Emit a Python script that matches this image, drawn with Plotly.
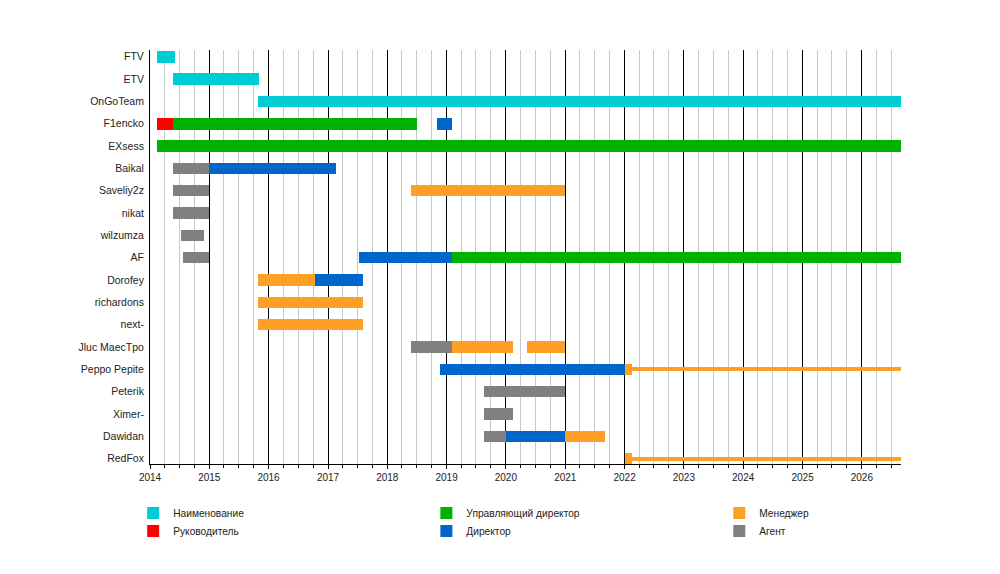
import pandas as pd
import plotly.graph_objects as go

# rows top to bottom
names = ["FTV", "ETV", "OnGoTeam", "F1encko", "EXsess", "Baikal", "Saveliy2z", "nikat",
         "wilzumza", "AF", "Dorofey", "richardons", "next-", "Jluc MaecTpo", "Peppo Pepite",
         "Peterik", "Ximer-", "Dawidan", "RedFox"]

END = "2026-08-30"

# one entry per bar segment
seg_row = ["FTV", "ETV", "OnGoTeam",
           "F1encko", "F1encko", "F1encko",
           "EXsess",
           "Baikal", "Baikal",
           "Saveliy2z", "Saveliy2z",
           "nikat", "wilzumza",
           "AF", "AF", "AF",
           "Dorofey", "Dorofey",
           "richardons", "next-",
           "Jluc MaecTpo", "Jluc MaecTpo", "Jluc MaecTpo",
           "Peppo Pepite", "Peppo Pepite", "Peppo Pepite",
           "Peterik", "Ximer-",
           "Dawidan", "Dawidan", "Dawidan",
           "RedFox", "RedFox"]
seg_start = ["2014-02-10", "2014-05-25", "2015-10-28",
             "2014-02-10", "2014-05-22", "2018-11-06",
             "2014-02-10",
             "2014-05-25", "2015-01-01",
             "2014-05-25", "2018-05-27",
             "2014-05-25", "2014-07-08",
             "2014-07-26", "2017-07-08", "2019-02-06",
             "2015-10-28", "2016-10-12",
             "2015-10-28", "2015-10-28",
             "2018-05-27", "2019-02-06", "2020-05-08",
             "2018-11-24", "2022-01-01", "2022-02-17",
             "2019-08-18", "2019-08-18",
             "2019-08-18", "2020-01-01", "2021-01-01",
             "2022-01-01", "2022-02-17"]
seg_end = ["2014-06-01", "2015-11-01", END,
           "2014-05-22", "2018-07-01", "2019-02-03",
           END,
           "2015-01-01", "2017-02-17",
           "2015-01-01", "2021-01-01",
           "2015-01-01", "2014-12-01",
           "2015-01-01", "2019-02-06", END,
           "2016-10-12", "2017-08-03",
           "2017-08-03", "2017-08-03",
           "2019-02-06", "2020-02-17", "2021-01-01",
           "2022-01-01", "2022-02-17", END,
           "2021-01-01", "2020-02-17",
           "2020-01-01", "2021-01-01", "2021-09-01",
           "2022-02-17", END]
seg_role = ["name", "name", "name",
            "head", "md", "dir",
            "md",
            "agent", "dir",
            "agent", "mgr",
            "agent", "agent",
            "agent", "dir", "md",
            "mgr", "dir",
            "mgr", "mgr",
            "agent", "mgr", "mgr",
            "dir", "mgr", "mgr",
            "agent", "agent",
            "agent", "dir", "mgr",
            "mgr", "mgr"]
# thin bars (after 2022 for Peppo Pepite and RedFox)
seg_thin = [False] * len(seg_row)
seg_thin[25] = True
seg_thin[32] = True

roles = ["name", "head", "md", "dir", "mgr", "agent"]
role_label = {"name": "Наименование", "head": "Руководитель",
              "md": "Управляющий директор", "dir": "Директор",
              "mgr": "Менеджер", "agent": "Агент"}
role_color = {"name": "#00CCD4", "head": "#FF0000", "md": "#00B200",
              "dir": "#0066CC", "mgr": "#FFA026", "agent": "#808080"}
# legend slot: (column x, row y) in paper coords
legend_pos = {"name": (-0.0224, -0.1184), "head": (-0.0224, -0.1618),
              "md": (0.368, -0.1184), "dir": (0.368, -0.1618),
              "mgr": (0.758, -0.1184), "agent": (0.758, -0.1618)}

df = pd.DataFrame({"row": seg_row, "start": pd.to_datetime(seg_start),
                   "end": pd.to_datetime(seg_end), "role": seg_role, "thin": seg_thin})
df["dur"] = (df["end"] - df["start"]).dt.total_seconds() * 1000

fig = go.Figure()
legends = {}
for i, r in enumerate(roles):
    d = df[df.role == r]
    lg = "legend" if i == 0 else "legend%d" % (i + 1)
    fig.add_trace(go.Bar(
        y=d["row"], x=d["dur"], base=d["start"].dt.strftime("%Y-%m-%d"),
        orientation="h", width=[0.19 if t else 0.52 for t in d["thin"]],
        marker=dict(color=role_color[r], line_width=0),
        name=role_label[r], legend=lg,
        hovertemplate=role_label[r] + "<extra></extra>"))
    lx, ly = legend_pos[r]
    legends[lg] = dict(orientation="v", x=lx, y=ly, xanchor="left", yanchor="middle",
                       font=dict(size=10.2, color="#222"), bgcolor="rgba(0,0,0,0)",
                       itemwidth=30)

# page body adds 8px offset, so the figure is 8px smaller on each axis
fig.update_layout(
    width=992, height=566,
    margin=dict(l=142, r=99, t=42, b=110),
    plot_bgcolor="white", paper_bgcolor="white",
    font=dict(family="Liberation Sans, Arial, sans-serif", size=10, color="#222"),
    barmode="overlay", bargap=0,
    showlegend=True,
    xaxis=dict(type="date", range=["2014-01-01", END],
               tick0="2014-01-01", dtick="M12", tickformat="%Y",
               showgrid=True, gridcolor="black", gridwidth=1,
               ticks="outside", ticklen=4, tickcolor="black",
               showline=True, linecolor="black", linewidth=1,
               minor=dict(dtick="M3", showgrid=True, gridcolor="#C8C8C8",
                          ticks="outside", ticklen=3, tickcolor="black"),
               zeroline=False, fixedrange=True),
    yaxis=dict(type="category", categoryorder="array", categoryarray=names,
               range=[18.24, -0.3], showgrid=False, ticks="",
               tickfont=dict(size=10.5), ticklabelstandoff=3,
               showline=True, linecolor="black", linewidth=1,
               zeroline=False, fixedrange=True),
)
fig.update_layout(**legends)

fig.write_html("out.html")
